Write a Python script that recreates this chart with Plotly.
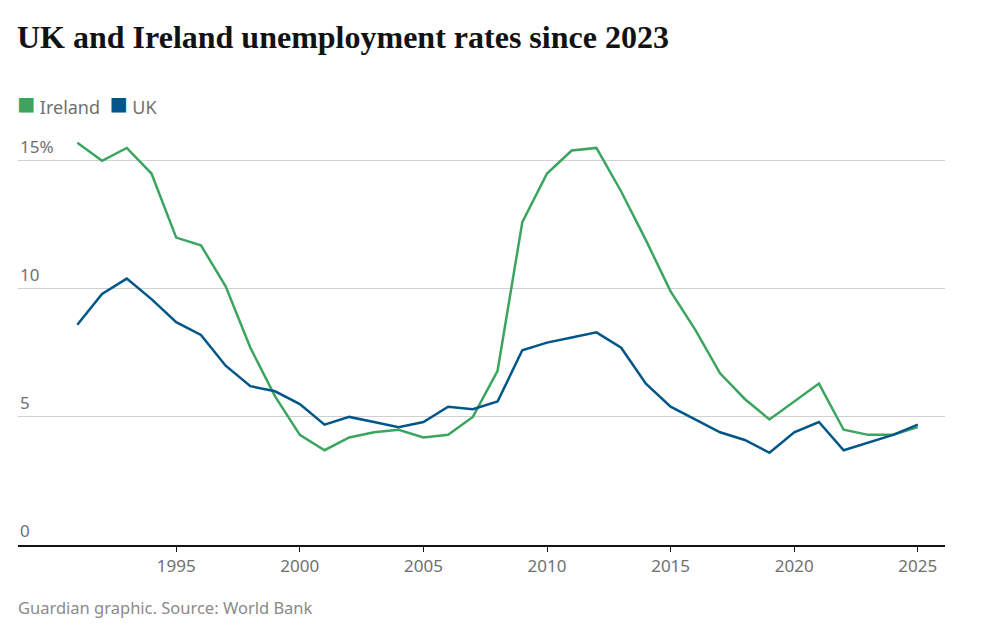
import plotly.graph_objects as go

years = list(range(1991, 2026))
ireland = [15.7, 15.0, 15.5, 14.5, 12.0, 11.7, 10.1, 7.7, 5.8, 4.3, 3.7, 4.2, 4.4, 4.5, 4.2, 4.3,
           5.0, 6.8, 12.6, 14.5, 15.4, 15.5, 13.8, 11.9, 9.9, 8.4, 6.7, 5.7, 4.9, 5.6, 6.3, 4.5,
           4.3, 4.3, 4.6]
uk = [8.6, 9.8, 10.4, 9.6, 8.7, 8.2, 7.0, 6.2, 6.0, 5.5, 4.7, 5.0, 4.8, 4.6, 4.8, 5.4,
      5.3, 5.6, 7.6, 7.9, 8.1, 8.3, 7.7, 6.3, 5.4, 4.9, 4.4, 4.1, 3.6, 4.4, 4.8, 3.7,
      4.0, 4.3, 4.7]
y_ticks = [0, 5, 10, 15]
y_labels = ["0", "5", "10", "15%"]
x_ticks = [1995, 2000, 2005, 2010, 2015, 2020, 2025]

GREEN = "#3ba55f"
BLUE = "#005689"
GREY = "#707070"

fig = go.Figure()
fig.add_trace(go.Scatter(x=years, y=ireland, mode="lines", name="Ireland",
                         line=dict(color=GREEN, width=2.5)))
fig.add_trace(go.Scatter(x=years, y=uk, mode="lines", name="UK",
                         line=dict(color=BLUE, width=2.5)))

# y labels sit above the gridlines, at the left edge
for v, t in zip(y_ticks, y_labels):
    fig.add_annotation(x=0, xref="paper", y=v, yref="y", text=t, showarrow=False,
                       xanchor="left", yanchor="bottom", yshift=1,
                       font=dict(size=17, color=GREY))

fig.add_annotation(x=0, xref="paper", y=1.0, yref="paper", yshift=93, xshift=-3,
                   text="<b>UK and Ireland unemployment rates since 2023</b>", showarrow=False,
                   xanchor="left", yanchor="middle",
                   font=dict(family="Liberation Serif", size=32, color="#121212"))
fig.add_annotation(x=0, xref="paper", y=1.0, yref="paper", yshift=28, xshift=-3,
                   text=f"<span style='color:{GREEN};font-size:30px'>■</span> Ireland  "
                        f"<span style='color:{BLUE};font-size:30px'>■</span> UK",
                   showarrow=False, xanchor="left", yanchor="middle",
                   font=dict(size=18, color=GREY))
fig.add_annotation(x=0, xref="paper", y=0, yref="paper", yshift=-62, xshift=-2,
                   text="Guardian graphic. Source: World Bank", showarrow=False,
                   xanchor="left", yanchor="middle", font=dict(size=16.5, color="#8a8a8a"))

fig.update_layout(
    width=1002, height=643,
    margin=dict(l=10, r=65, t=122, b=106),
    plot_bgcolor="white", paper_bgcolor="white",
    showlegend=False,
    font=dict(family="Noto Sans", color=GREY),
    xaxis=dict(range=[1988.6, 2026.1], tickvals=x_ticks, showgrid=False,
               showline=True, linecolor="#121212", linewidth=1.5,
               ticks="outside", ticklen=5, tickcolor="#121212",
               tickfont=dict(size=17, color=GREY), zeroline=False),
    yaxis=dict(range=[0, 16.2], tickvals=y_ticks, showticklabels=False,
               gridcolor="#d0d0d0", zeroline=False),
)

fig.write_html("out.html")
